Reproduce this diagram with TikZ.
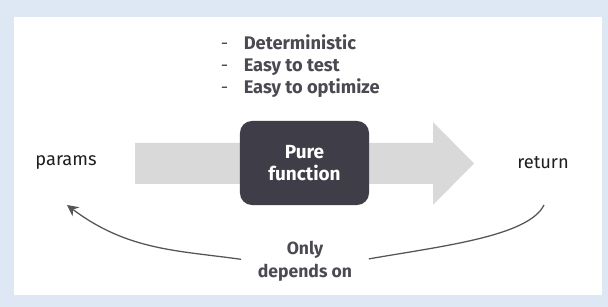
\documentclass[tikz,border=0pt]{standalone}
\usepackage{fontspec}
\setmainfont{Fira Sans}
\usetikzlibrary{arrows.meta}
\definecolor{slidebg}{HTML}{DEE8F4}
\definecolor{slideink}{HTML}{1E1E1E}
\definecolor{slidemuted}{HTML}{4A4A52}
\definecolor{flowgray}{HTML}{D9D9D9}
\definecolor{boxdark}{HTML}{3E3D48}
\definecolor{loopgray}{HTML}{555555}

\begin{document}
\begin{tikzpicture}[x=0.025cm, y=0.025cm, >=Stealth,
                    every node/.style={slideink, font=\fontsize{13}{15.6}\selectfont}]

  %% ---- 背景與白色面板 ----
  \fill[slidebg] (0,0) rectangle (608,307);
  \fill[white] (14,12) rectangle (602,290);
  \useasboundingbox (0,0) rectangle (608,307);

  %% ---- 由左而右的灰色寬箭號 ----
  \fill[flowgray] (135,123) -- (433,123) -- (433,102) -- (474,143.5)
    -- (433,185) -- (433,164) -- (135,164) -- cycle;

  %% ---- 中央的函式方塊 ----
  \node (pure) [fill=boxdark, rounded corners=0.3cm, minimum width=3.225cm,
                minimum height=2.1cm, align=center, text=white,
                font=\fontsize{13.5}{16}\selectfont\bfseries] at (304.5,144)
    {Pure\\function};

  %% ---- 上方的三項特性 ----
  \node (perks) [anchor=west, text=slidemuted] at (216,240)
    {\begin{tabular}{@{}l@{\hspace{11pt}}l@{}}
       - & \textbf{Deterministic}\\
       - & \textbf{Easy to test}\\
       - & \textbf{Easy to optimize}
     \end{tabular}};

  %% ---- 輸入與輸出 ----
  \node (params) at (66,144) {params};
  \node (ret) at (543,144) {return};

  %% ---- 底部說明與兩條弧線 ----
  \node (dep) [align=center, text=slidemuted,
               font=\fontsize{12.5}{16.5}\selectfont\bfseries] at (305,46)
    {Only\\depends on};
  \coordinate (paramsin) at (67,102);
  \coordinate (retout) at (544,102);

  \draw[loopgray, line width=0.9pt, -{Stealth[length=8pt, width=8pt]},
        shorten <=0.3cm]
    (dep.west) to[out=172, in=-37] (paramsin);
  \draw[loopgray, line width=0.9pt, shorten <=0.3cm]
    (dep.east) .. controls +(10:85) and +(244:35) .. (retout);

\end{tikzpicture}
\end{document}
